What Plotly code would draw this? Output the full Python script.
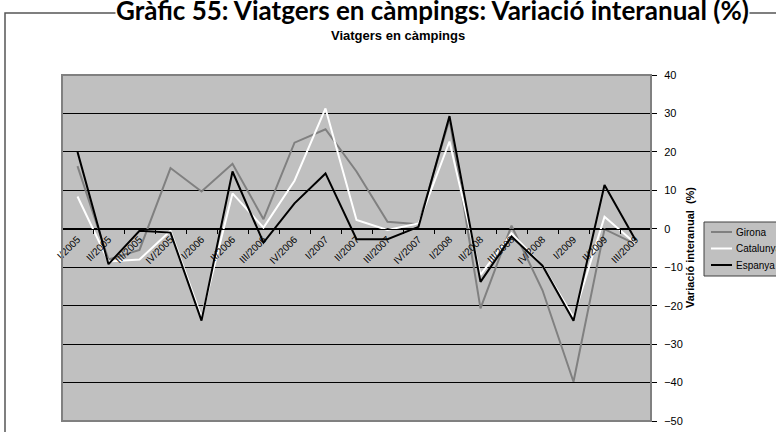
import plotly.graph_objects as go

categories = ["I/2005", "II/2005", "III/2005", "IV/2005",
              "I/2006", "II/2006", "III/2006", "IV/2006",
              "I/2007", "II/2007", "III/2007", "IV/2007",
              "I/2008", "II/2008", "III/2008", "IV/2008",
              "I/2009", "II/2009", "III/2009"]

girona = [16.3, -8.0, -5.5, 15.8, 9.7, 16.9, 2.5, 22.4, 25.9, 14.9, 1.8, 1.2,
          28.5, -20.7, 0.8, -16.0, -39.8, -0.1, -4.0]
catalunya = [8.4, -8.5, -8.0, -0.5, -23.0, 9.2, 0.3, 12.5, 31.3, 2.3, -0.3, 1.4,
             22.7, -12.0, -1.2, -9.6, -23.0, 3.1, -3.8]
espanya = [20.0, -9.2, -0.5, -1.0, -23.9, 14.9, -3.6, 6.6, 14.4, -2.7, -2.7, 0.5,
           29.3, -13.8, -2.0, -9.6, -23.9, 11.4, -2.9]

series_names = ["Girona", "Catalunya", "Espanya"]
series_colors = ["#808080", "#ffffff", "#000000"]

y_ticks = [-50, -40, -30, -20, -10, 0, 10, 20, 30, 40]

W, H = 776, 432
L, R, T, B = 62, 651, 75, 421
pw, ph = R - L, B - T

def px(x):
    return (x - L) / pw

def py(y):
    return (B - y) / ph

fig = go.Figure()
for name, vals, col in zip(series_names, [girona, catalunya, espanya], series_colors):
    fig.add_trace(go.Scatter(x=categories, y=vals, name=name, mode="lines",
                             line=dict(color=col, width=2), showlegend=False,
                             hoverinfo="skip"))

ymin, ymax = -50, 40
zero_pos = (0 - ymin) / (ymax - ymin)

fig.update_layout(
    width=W, height=H,
    margin=dict(l=L, r=W - R, t=T, b=H - B, pad=0, autoexpand=False),
    paper_bgcolor="white",
    plot_bgcolor="#c0c0c0",
    font=dict(family="Liberation Sans, Arial, sans-serif", color="black", size=10),
    xaxis=dict(
        type="category", anchor="free", position=zero_pos, automargin=False,
        showgrid=False, zeroline=False,
        showline=True, linecolor="black", linewidth=1,
        ticks="outside", tickson="boundaries", ticklen=4, tickcolor="black",
        tickangle=-45, tickfont=dict(size=10, color="black"),
        range=[-0.5, len(categories) - 0.5],
    ),
    yaxis=dict(
        side="right", range=[ymin, ymax], tickvals=y_ticks, automargin=False,
        showgrid=True, gridcolor="black", gridwidth=1,
        zeroline=False,
        showline=True, linecolor="black", linewidth=1,
        ticks="outside", ticklen=5, tickcolor="black",
        tickfont=dict(size=11, color="black"), ticklabelstandoff=5,
    ),
    showlegend=False,
)

# plot area border
fig.add_shape(type="rect", xref="paper", yref="paper", x0=0, x1=1, y0=0, y1=1,
              line=dict(color="#808080", width=2), layer="above")
# outer frame
fig.add_shape(type="rect", xref="paper", yref="paper",
              x0=px(5), x1=px(800), y0=py(445), y1=py(13),
              line=dict(color="#555555", width=1.5), layer="below")

# legend (manual)
fig.add_shape(type="rect", xref="paper", yref="paper",
              x0=px(704), x1=px(820), y0=py(276), y1=py(222),
              line=dict(color="#404040", width=1), fillcolor="#c0c0c0", layer="above")
row_y = [232, 248.5, 265]
for name, col, ry in zip(series_names, series_colors, row_y):
    fig.add_shape(type="line", xref="paper", yref="paper",
                  x0=px(711), x1=px(732), y0=py(ry), y1=py(ry),
                  line=dict(color=col, width=2), layer="above")
    fig.add_annotation(text=name, xref="paper", yref="paper", x=px(734), y=py(ry),
                       xanchor="left", yanchor="middle", showarrow=False,
                       font=dict(size=10))

fig.add_annotation(text="<b>Gràfic 55: Viatgers en càmpings: Variació interanual (%)</b>",
                   xref="paper", yref="paper", x=px(432), y=py(10),
                   xanchor="center", yanchor="middle", showarrow=False,
                   bgcolor="white", borderpad=0,
                   font=dict(family="Lato, sans-serif", size=26, color="black"))
fig.add_annotation(text="<b>Viatgers en càmpings</b>",
                   xref="paper", yref="paper", x=px(398), y=py(36),
                   xanchor="center", yanchor="middle", showarrow=False,
                   font=dict(size=13))
fig.add_annotation(text="<b>Variació interanual  (%)</b>",
                   xref="paper", yref="paper", x=px(690), y=py(248),
                   xanchor="center", yanchor="middle", showarrow=False,
                   textangle=-90, font=dict(size=11))

fig.write_html("out.html", config={"displayModeBar": False},
               post_script="document.body.style.margin='0';")
